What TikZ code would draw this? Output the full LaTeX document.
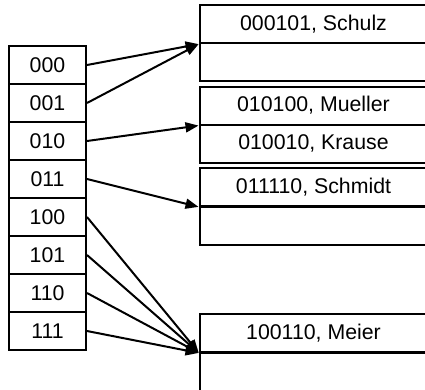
\documentclass[tikz,border=0pt]{standalone}
\usepackage{fontspec}
\setmainfont{Liberation Sans}
\usetikzlibrary{arrows.meta}
\tikzset{
  cell/.style={draw, line width=2pt, minimum width=77pt, minimum height=38pt,
    inner sep=0pt, font=\fontsize{21.3}{24}\selectfont},
  slot/.style={draw, line width=2pt, minimum width=227pt, minimum height=38pt,
    inner sep=0pt, font=\fontsize{21.3}{24}\selectfont},
  ptr/.style={line width=2pt, -{Triangle[length=13pt,width=10pt]}, shorten >=0.5pt}
}
\begin{document}
\begin{tikzpicture}[x=1pt,y=-1pt]
\useasboundingbox (0,0) rectangle (425,389);
\clip (0,0) rectangle (425,389);
% directory
\node[cell] (d0) at (47.5,65)  {000};
\node[cell] (d1) at (47.5,103) {001};
\node[cell] (d2) at (47.5,141) {010};
\node[cell] (d3) at (47.5,179) {011};
\node[cell] (d4) at (47.5,217) {100};
\node[cell] (d5) at (47.5,255) {101};
\node[cell] (d6) at (47.5,293) {110};
\node[cell] (d7) at (47.5,331) {111};
% buckets, two slots each
\node[slot] (a1) at (313.5,24)    {000101, Schulz};
\node[slot] (a2) at (313.5,62)    {};
\node[slot] (b1) at (313.5,105.5) {010100, Mueller};
\node[slot] (b2) at (313.5,143.5) {010010, Krause};
\node[slot] (c1) at (313.5,187)   {011110, Schmidt};
\node[slot] (c2) at (313.5,225.5) {};
\node[slot] (e1) at (313.5,333)   {100110, Meier};
\node[slot] (e2) at (313.5,371.5) {};
% pointers
\draw[ptr] (d0.east) -- (a1.south west);
\draw[ptr] (d1.east) -- (a1.south west);
\draw[ptr] (d2.east) -- (b1.south west);
\draw[ptr] (d3.east) -- (c1.south west);
\draw[ptr] (d4.east) -- (e1.south west);
\draw[ptr] (d5.east) -- (e1.south west);
\draw[ptr] (d6.east) -- (e1.south west);
\draw[ptr] (d7.east) -- (e1.south west);
\end{tikzpicture}
\end{document}
